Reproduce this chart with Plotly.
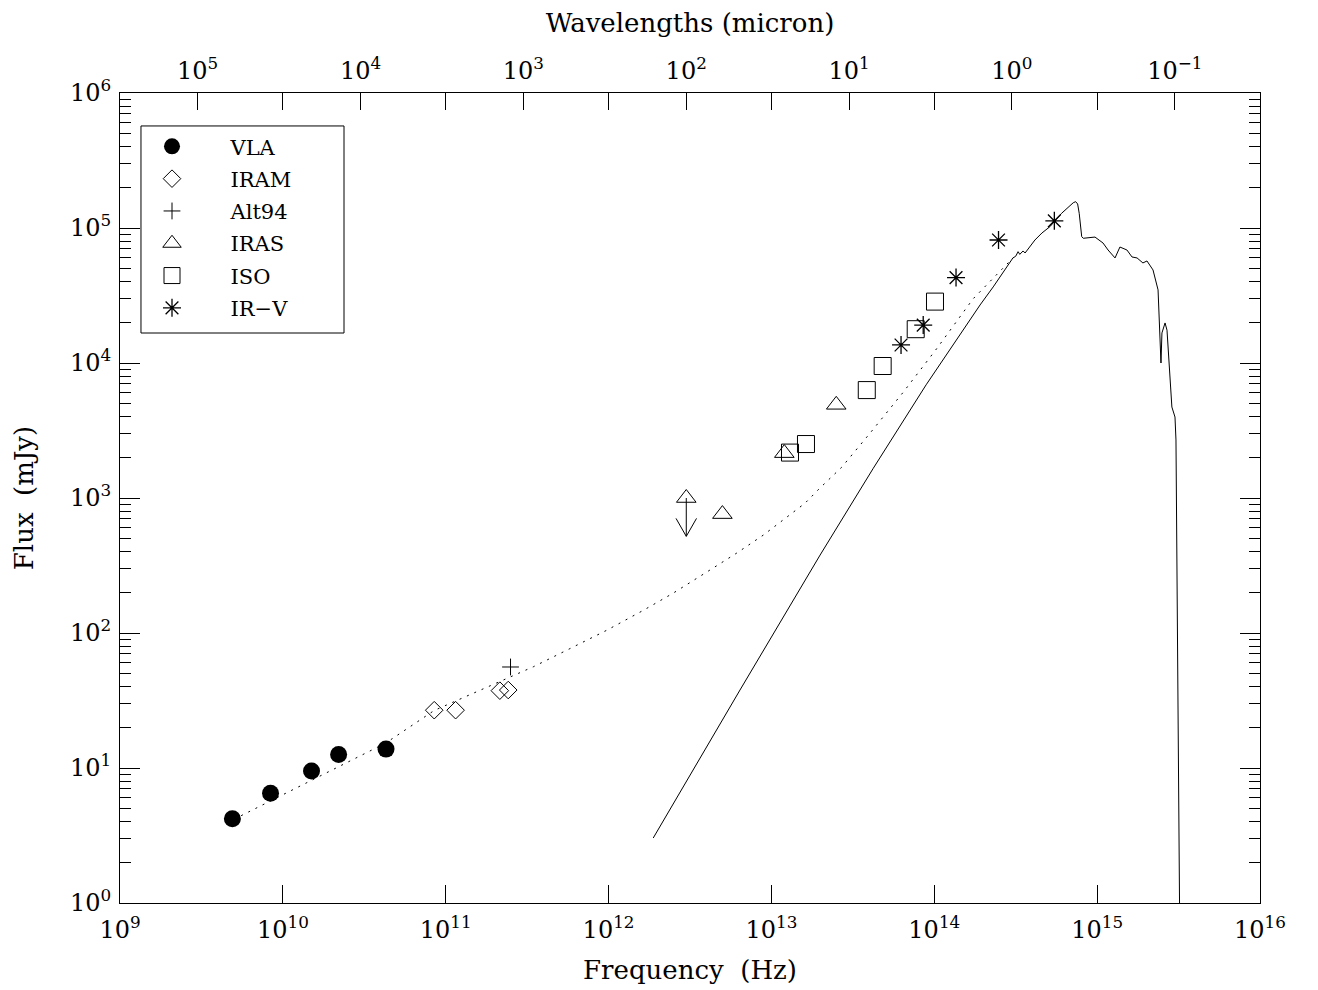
import numpy as np
import plotly.graph_objects as go

# ---------------- data ----------------
vla_nu = [4.9e9, 8.4e9, 1.5e10, 2.2e10, 4.3e10]
vla_flux = [4.2, 6.5, 9.5, 12.6, 13.8]

iram_nu = [8.5e10, 1.15e11, 2.15e11, 2.42e11]
iram_flux = [26.8, 26.8, 37.4, 37.8]

alt94_nu = [2.5e11]
alt94_flux = [56.0]

iras_nu = [3.0e12, 5.0e12, 1.2e13, 2.5e13]
iras_flux = [1000.0, 760.0, 2150.0, 4900.0]

iras_limit_nu = [3.0e12]
iras_limit_top = [1000.0]
iras_limit_bottom = [520.0]

iso_nu = [1.30e13, 1.63e13, 3.85e13, 4.82e13, 7.69e13, 1.01e14]
iso_flux = [2170.0, 2510.0, 6300.0, 9500.0, 17800.0, 28500.0]

irv_nu = [6.25e13, 8.55e13, 1.36e14, 2.48e14, 5.46e14]
irv_flux = [13600.0, 19100.0, 42900.0, 81500.0, 113000.0]

# total model (dotted)
model_nu = [5.01e9, 4.28e10, 8.51e10, 2.48e11, 3.45e11, 5.79e11, 9.73e11,
            1.63e12, 2.49e12, 4.20e12, 6.12e12, 8.91e12, 1.24e13, 1.61e13,
            1.99e13, 2.70e13, 4.03e13, 6.46e13, 1.04e14, 1.73e14, 3.05e14]
model_flux = [4.17, 15.3, 26.7, 47.0, 56.2, 76.6, 104.7,
              146.9, 197.2, 293.1, 390.8, 530.9, 719.5, 916.2,
              1189.0, 1690.0, 3020.0, 6095.0, 12880.0, 29850.0, 60260.0]

# stellar spectrum (solid)
star_nu = [1.88e12, 6.41e12, 1.99e13, 4.22e13, 8.91e13, 1.91e14, 2.30e14, 3.04e14,
           3.16e14, 3.27e14, 3.35e14, 3.51e14, 3.61e14, 4.15e14, 4.58e14,
           5.13e14, 6.05e14, 6.50e14, 6.81e14, 7.13e14, 7.38e14, 7.59e14,
           7.76e14, 8.04e14, 8.22e14, 9.70e14, 1.087e15, 1.167e15, 1.288e15,
           1.380e15, 1.524e15, 1.637e15, 1.758e15, 1.910e15, 2.023e15,
           2.203e15, 2.366e15, 2.399e15, 2.466e15, 2.500e15, 2.612e15,
           2.685e15, 2.799e15, 2.877e15, 3.006e15, 3.048e15, 3.23e15]
star_flux = [3.03, 37.8, 378.0, 1660.0, 6890.0, 26900.0, 36600.0, 60000.0,
             61700.0, 66800.0, 63800.0, 67600.0, 65300.0, 81500.0, 91800.0,
             102300.0, 128500.0, 140000.0, 147900.0, 153800.0, 156700.0, 150700.0,
             128500.0, 86300.0, 83900.0, 85700.0, 77400.0, 68700.0, 60000.0,
             72300.0, 68700.0, 61000.0, 60000.0, 55100.0, 57000.0,
             48900.0, 34800.0, 20800.0, 10000.0, 16700.0, 19800.0,
             17500.0, 7480.0, 4720.0, 3980.0, 2690.0, 0.3]

# axes
freq_ticks = [1e9, 1e10, 1e11, 1e12, 1e13, 1e14, 1e15, 1e16]
freq_exps = ["9", "10", "11", "12", "13", "14", "15", "16"]
flux_ticks = [1, 10, 100, 1e3, 1e4, 1e5, 1e6]
flux_exps = ["0", "1", "2", "3", "4", "5", "6"]
wave_ticks = [1e5, 3e4, 1e4, 3e3, 1e3, 3e2, 1e2, 3e1, 1e1, 3e0, 1e0, 3e-1, 1e-1]
wave_exps = ["5", "", "4", "", "3", "", "2", "", "1", "", "0", "", "\u22121"]
C_MICRON = 2.998e14  # speed of light, micron/s

FONT = "DejaVu Serif"
HEAD_DX = 10 ** 0.063   # arrow-head half width (log factor in frequency)
HEAD_DY = 10 ** 0.133   # arrow-head height (log factor in flux)


def pow_label(e):
    if e == "":
        return ""
    return "10<sup>%s</sup>" % e


fig = go.Figure()

mk_line = dict(color="black", width=1)
fig.add_trace(go.Scatter(x=model_nu, y=model_flux, mode="lines",
                         line=dict(color="black", width=1, dash="2px,6px"),
                         showlegend=False, hoverinfo="skip"))
fig.add_trace(go.Scatter(x=star_nu, y=star_flux, mode="lines",
                         line=dict(color="black", width=1),
                         showlegend=False, hoverinfo="skip"))

# upper-limit arrow for the IRAS 100 micron point
for nu, top, bot in zip(iras_limit_nu, iras_limit_top, iras_limit_bottom):
    fig.add_trace(go.Scatter(x=[nu, nu], y=[top, bot], mode="lines",
                             line=dict(color="black", width=1),
                             showlegend=False, hoverinfo="skip"))
    fig.add_trace(go.Scatter(x=[nu / HEAD_DX, nu, nu * HEAD_DX],
                             y=[bot * HEAD_DY, bot, bot * HEAD_DY], mode="lines",
                             line=dict(color="black", width=1),
                             showlegend=False, hoverinfo="skip"))

fig.add_trace(go.Scatter(x=vla_nu, y=vla_flux, mode="markers", name="VLA",
                         legendgroup="a",
                         marker=dict(symbol="circle", size=17, color="black",
                                     line=dict(width=0))))
fig.add_trace(go.Scatter(x=iram_nu, y=iram_flux, mode="markers", name="IRAM",
                         legendgroup="b",
                         marker=dict(symbol="diamond-open", size=13.5, color="black",
                                     line=mk_line)))
fig.add_trace(go.Scatter(x=alt94_nu, y=alt94_flux, mode="markers", name="Alt94",
                         legendgroup="c",
                         marker=dict(symbol="cross-thin-open", size=12, color="black",
                                     line=mk_line)))
fig.add_trace(go.Scatter(x=iras_nu, y=iras_flux, mode="markers", name="IRAS",
                         legendgroup="d",
                         marker=dict(symbol="triangle-up-open", size=17, color="black",
                                     line=mk_line)))
fig.add_trace(go.Scatter(x=iso_nu, y=iso_flux, mode="markers", name="ISO",
                         legendgroup="e",
                         marker=dict(symbol="square-open", size=17, color="black",
                                     line=mk_line)))
fig.add_trace(go.Scatter(x=irv_nu, y=irv_flux, mode="markers", name="IR\u2212V",
                         legendgroup="f",
                         marker=dict(symbol="asterisk-open", size=15, color="black",
                                     line=dict(color="black", width=1.3))))

# invisible trace so the wavelength axis is drawn
fig.add_trace(go.Scatter(x=[C_MICRON / v for v in vla_nu], y=vla_flux, xaxis="x2",
                         mode="markers", marker=dict(opacity=0), showlegend=False,
                         hoverinfo="skip"))

axis_common = dict(showgrid=False, zeroline=False, showline=True, linecolor="black",
                   linewidth=1, tickcolor="black", tickwidth=1, automargin=False,
                   tickfont=dict(family=FONT, size=24, color="black"))

minor_vals = [m * 10 ** e for e in range(0, 6) for m in range(2, 10)]

fig.update_layout(
    width=1318, height=990,
    margin=dict(l=112, r=66, t=85, b=95),
    paper_bgcolor="white", plot_bgcolor="white",
    font=dict(family=FONT, color="black"),
    xaxis=dict(type="log", range=[9, 16], ticks="inside", ticklen=18,
               tickmode="array", tickvals=freq_ticks,
               ticktext=[pow_label(e) for e in freq_exps],
               ticklabelstandoff=5,
               title=dict(text="Frequency\u00a0\u00a0(Hz)", font=dict(family=FONT, size=26),
                          standoff=18),
               **axis_common),
    xaxis2=dict(type="log", overlaying="x", side="top", anchor="y",
                range=[np.log10(C_MICRON / 1e9), np.log10(C_MICRON / 1e16)],
                ticks="inside", ticklen=17, tickmode="array", tickvals=wave_ticks,
                ticktext=[pow_label(e) for e in wave_exps], ticklabelstandoff=3,
                title=dict(text="Wavelengths (micron)", font=dict(family=FONT, size=26),
                           standoff=31),
                **axis_common),
    yaxis=dict(type="log", range=[0, 6], ticks="inside", ticklen=20, mirror="ticks",
               tickmode="array", tickvals=flux_ticks,
               ticktext=[pow_label(e) for e in flux_exps],
               ticklabelstandoff=3,
               minor=dict(ticks="inside", ticklen=11, tickcolor="black", tickwidth=1,
                          tickmode="array", tickvals=minor_vals, showgrid=False),
               title=dict(text="Flux\u00a0\u00a0(mJy)", font=dict(family=FONT, size=26),
                          standoff=28),
               **axis_common),
    legend=dict(x=-0.0057, y=0.959, xanchor="left", yanchor="top",
                borderwidth=0, bgcolor="rgba(0,0,0,0)",
                font=dict(family=FONT, size=21, color="black"),
                itemwidth=107, tracegroupgap=2),
    showlegend=True,
    shapes=[dict(type="rect", xref="paper", yref="paper",
                 x0=0.0184, x1=0.1965, y0=0.7037, y1=0.9593,
                 line=dict(color="black", width=1), fillcolor="rgba(0,0,0,0)")],
)

fig.write_html("out.html")
